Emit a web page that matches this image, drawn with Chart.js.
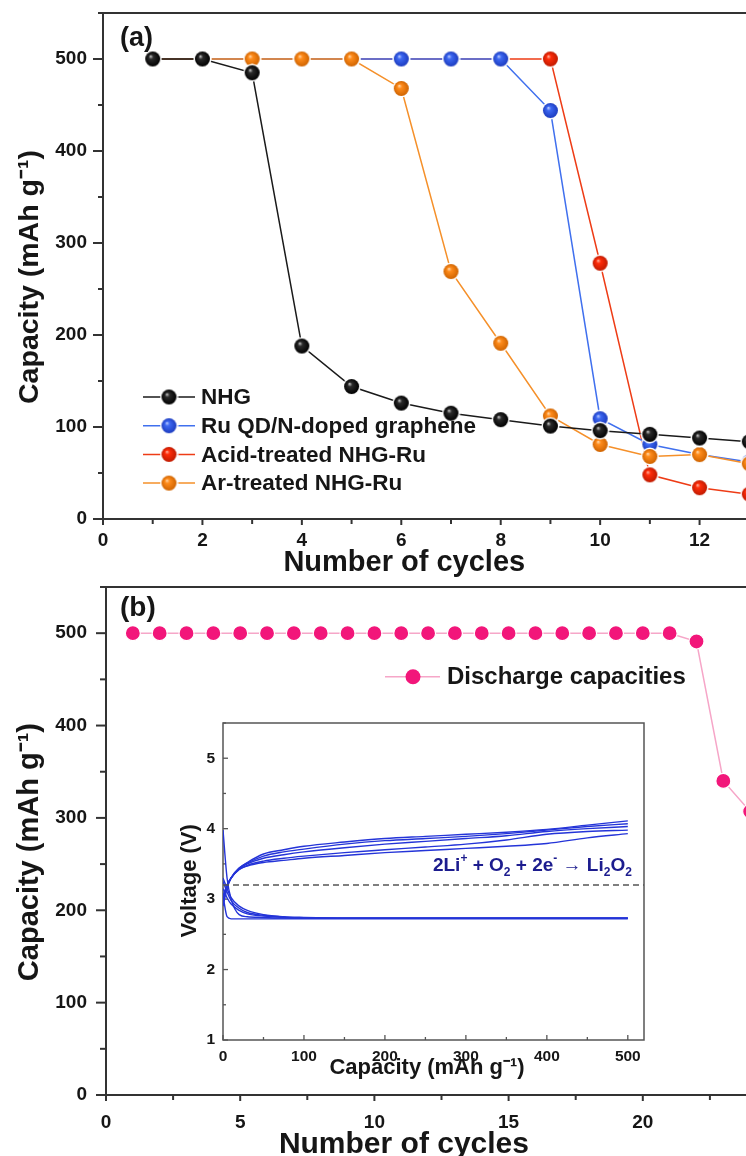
<!DOCTYPE html>
<html>
<head>
<meta charset="utf-8">
<script src="https://cdn.jsdelivr.net/npm/chart.js@4.4.0/dist/chart.umd.min.js"></script>
<style>
  html, body { margin: 0; padding: 0; background: #fff; }
  body { position: relative; width: 746px; height: 1156px; overflow: hidden; }
  canvas { position: absolute; }
  #chartA { left: 0; top: 0; }
  #chartB { left: 0; top: 570px; }
  #chartInset { left: 150px; top: 700px; }
</style>
</head>
<body>
<canvas id="chartA" width="820" height="590"></canvas>
<canvas id="chartB" width="800" height="600"></canvas>
<canvas id="chartInset" width="520" height="390"></canvas>
<script>
// --- panel (a) : capacity vs cycles for four cathodes ---
var cyclesA = [1, 2, 3, 4, 5, 6, 7, 8, 9, 10, 11, 12, 13];
var nhgCap  = [500, 500, 485, 188, 144, 126, 115, 108, 101, 96, 92, 88, 84];
var ruQdCap = [500, 500, 500, 500, 500, 500, 500, 500, 444, 109, 81, 70, 62];
var acidCap = [500, 500, 500, 500, 500, 500, 500, 500, 500, 278, 48, 34, 27];
var arCap   = [500, 500, 500, 500, 500, 468, 269, 191, 112, 81, 68, 70, 60];
var xTicksA = [0, 2, 4, 6, 8, 10, 12];
var yTicksA = [0, 100, 200, 300, 400, 500];

// --- panel (b) : discharge capacity of one cell ---
var cyclesB = [1, 2, 3, 4, 5, 6, 7, 8, 9, 10, 11, 12, 13, 14, 15, 16, 17, 18, 19, 20, 21, 22, 23, 24];
var dischargeCap = [500, 500, 500, 500, 500, 500, 500, 500, 500, 500, 500, 500, 500, 500, 500, 500, 500, 500, 500, 500, 500, 491, 340, 307];
var xTicksB = [0, 5, 10, 15, 20];
var yTicksB = [0, 100, 200, 300, 400, 500];

// --- inset : voltage profiles ---
var insetCap    = [0, 5, 10, 20, 30, 50, 75, 100, 150, 200, 250, 300, 350, 400, 450, 500];
var chargeV1    = [2.90, 3.15, 3.30, 3.44, 3.52, 3.64, 3.70, 3.75, 3.81, 3.86, 3.89, 3.92, 3.95, 3.99, 4.05, 4.11];
var chargeV2    = [2.95, 3.17, 3.30, 3.44, 3.51, 3.61, 3.67, 3.71, 3.78, 3.83, 3.86, 3.89, 3.93, 3.98, 4.03, 4.07];
var chargeV3    = [3.00, 3.18, 3.30, 3.43, 3.50, 3.58, 3.63, 3.67, 3.73, 3.78, 3.82, 3.86, 3.90, 3.96, 4.00, 4.03];
var chargeV4    = [3.00, 3.20, 3.30, 3.42, 3.48, 3.54, 3.58, 3.61, 3.66, 3.70, 3.74, 3.78, 3.84, 3.92, 3.96, 3.98];
var chargeV5    = [3.05, 3.20, 3.30, 3.42, 3.47, 3.52, 3.55, 3.58, 3.62, 3.66, 3.69, 3.72, 3.75, 3.79, 3.87, 3.93];
var dischargeV1 = [3.98, 3.30, 3.00, 2.78, 2.75, 2.74, 2.73, 2.73, 2.73, 2.73, 2.73, 2.73, 2.73, 2.73, 2.73, 2.73];
var dischargeV2 = [3.30, 3.15, 3.02, 2.90, 2.84, 2.78, 2.75, 2.74, 2.73, 2.73, 2.73, 2.73, 2.73, 2.73, 2.73, 2.73];
var dischargeV3 = [3.25, 3.10, 2.98, 2.87, 2.81, 2.77, 2.745, 2.735, 2.73, 2.73, 2.73, 2.73, 2.73, 2.73, 2.73, 2.73];
var dischargeV4 = [3.15, 3.02, 2.93, 2.84, 2.79, 2.76, 2.74, 2.73, 2.73, 2.73, 2.73, 2.73, 2.73, 2.73, 2.73, 2.73];
var dischargeV5 = [3.05, 2.75, 2.72, 2.72, 2.72, 2.72, 2.72, 2.72, 2.72, 2.72, 2.72, 2.72, 2.72, 2.72, 2.72, 2.72];
var eqVoltage = 3.2;
var xTicksIn = [0, 100, 200, 300, 400, 500];
var yTicksIn = [1, 2, 3, 4, 5];

var FONT = '"Liberation Sans", Arial, Helvetica, sans-serif';
var INK = '#161616';
var CAP_TITLE = 'Capacity (mAh g\u207B\u00B9)';
Chart.defaults.font.family = FONT;
Chart.defaults.color = INK;

function pairs(xs, ys) {
    return xs.map(function (x, i) { return { x: x, y: ys[i] }; });
}

function onlyTicks(list) {
    return function (value) { return list.indexOf(value) >= 0 ? String(value) : ''; };
}

// petite sphere ombrée pour les marqueurs du panneau (a)
function makeBall(light, base, shade, r) {
    var c = document.createElement('canvas');
    var s = Math.ceil(r * 2 + 4);
    c.width = s; c.height = s;
    var g = c.getContext('2d');
    var m = s / 2;
    g.fillStyle = '#fff';
    g.beginPath(); g.arc(m, m, r + 1.5, 0, Math.PI * 2); g.fill();
    var grad = g.createRadialGradient(m - r * 0.3, m - r * 0.38, 0, m, m, r);
    grad.addColorStop(0, light);
    grad.addColorStop(0.3, base);
    grad.addColorStop(1, shade);
    g.fillStyle = grad;
    g.beginPath(); g.arc(m, m, r, 0, Math.PI * 2); g.fill();
    return c;
}

function drawTicks(ctx, scale, t, a, horizontal) {
    var dir = t.inward ? 1 : -1;
    var n = Math.round((scale.max - scale.min) / t.minor);
    for (var i = 0; i <= n; i++) {
        var v = scale.min + i * t.minor;
        var major = Math.abs(v / t.major - Math.round(v / t.major)) < 1e-6;
        var len = major ? t.majorLen : t.minorLen;
        var p = scale.getPixelForValue(v);
        ctx.beginPath();
        if (horizontal) { ctx.moveTo(p, a.bottom); ctx.lineTo(p, a.bottom - dir * len); }
        else { ctx.moveTo(a.left, p); ctx.lineTo(a.left + dir * len, p); }
        ctx.stroke();
    }
}

// cadre + graduations majeures/mineures
var axesBox = {
    id: 'axesBox',
    beforeDatasetsDraw: function (chart, args, o) {
        var ctx = chart.ctx, a = chart.chartArea;
        ctx.save();
        ctx.strokeStyle = o.color;
        ctx.lineWidth = o.width;
        ctx.strokeRect(a.left, a.top, a.right - a.left, a.bottom - a.top);
        ctx.lineWidth = o.tickWidth;
        drawTicks(ctx, chart.scales.x, o.x, a, true);
        drawTicks(ctx, chart.scales.y, o.y, a, false);
        ctx.restore();
    }
};

// titres d'axes : le titre d'origine n'est pas centré sur la zone de tracé
var axisTitles = {
    id: 'axisTitles',
    afterDraw: function (chart, args, o) {
        var ctx = chart.ctx, a = chart.chartArea;
        ctx.save();
        ctx.fillStyle = INK;
        ctx.textAlign = 'center';
        ctx.textBaseline = 'middle';
        ctx.font = 'bold ' + o.x.size + 'px ' + FONT;
        ctx.fillText(o.x.text, chart.scales.x.getPixelForValue(o.x.at), a.bottom + o.x.dy);
        ctx.translate(a.left - o.y.dx, chart.scales.y.getPixelForValue(o.y.at));
        ctx.rotate(-Math.PI / 2);
        ctx.font = 'bold ' + o.y.size + 'px ' + FONT;
        ctx.fillText(o.y.text, 0, 0);
        ctx.restore();
    }
};

// the invisible tick length gives the gap between axis and labels
function hiddenGrid(gap) {
    return { display: true, drawOnChartArea: false, drawTicks: true, tickLength: gap, tickColor: 'rgba(0,0,0,0)' };
}

function scaleX(min, max, stepSize, labels, fontSize, gap, height) {
    return {
        type: 'linear', min: min, max: max,
        grid: hiddenGrid(gap), border: { display: false },
        ticks: { stepSize: stepSize, includeBounds: false, autoSkip: false, maxRotation: 0, padding: 0, color: INK,
                 font: { size: fontSize, weight: 'bold' }, callback: onlyTicks(labels) },
        afterFit: function (s) { s.height = height; }
    };
}

function scaleY(min, max, stepSize, labels, fontSize, gap, width) {
    return {
        min: min, max: max,
        grid: hiddenGrid(gap), border: { display: false },
        ticks: { stepSize: stepSize, includeBounds: false, autoSkip: false, padding: 0, color: INK,
                 font: { size: fontSize, weight: 'bold' }, callback: onlyTicks(labels) },
        afterFit: function (s) { s.width = width; }
    };
}

// ---------- panel (a) ----------
var ballBlack  = makeBall('#d8d8d8', '#2a2a2a', '#000000', 7.5);
var ballBlue   = makeBall('#c8d6ff', '#3d68f2', '#1c3cc0', 7.5);
var ballRed    = makeBall('#ffc2b0', '#ff2d0a', '#c01a00', 7.5);
var ballOrange = makeBall('#ffe0b8', '#ff8c1c', '#d06400', 7.5);

var legendOrderA = [0, 1, 2, 3];

var legendA = {
    id: 'legendA',
    afterDraw: function (chart) {
        var ctx = chart.ctx, a = chart.chartArea;
        ctx.save();
        ctx.fillStyle = INK;
        ctx.textAlign = 'left';
        ctx.textBaseline = 'middle';
        ctx.font = 'bold 27px ' + FONT;
        ctx.fillText('(a)', a.left + 17, a.top + 26);
        ctx.font = 'bold 22.5px ' + FONT;
        legendOrderA.forEach(function (idx, row) {
            var ds = chart.data.datasets[idx];
            var y = a.top + 384 + row * 28.7;
            var x = a.left + 40;
            ctx.strokeStyle = ds.borderColor;
            ctx.lineWidth = 1.5;
            ctx.beginPath(); ctx.moveTo(x, y); ctx.lineTo(x + 52, y); ctx.stroke();
            var img = ds.pointStyle;
            ctx.drawImage(img, x + 26 - img.width / 2, y - img.height / 2);
            ctx.fillText(ds.label, x + 58, y + 1);
        });
        ctx.restore();
    }
};

function seriesA(label, ys, color, ball, order) {
    return {
        label: label, data: pairs(cyclesA, ys), order: order,
        borderColor: color, borderWidth: 1.5, tension: 0,
        pointStyle: ball, pointRadius: 8, pointHoverRadius: 8
    };
}

new Chart(document.getElementById('chartA'), {
    type: 'line',
    data: {
        datasets: [
            seriesA('NHG', nhgCap, '#1a1a1a', ballBlack, 0),
            seriesA('Ru QD/N-doped graphene', ruQdCap, '#4070ee', ballBlue, 2),
            seriesA('Acid-treated NHG-Ru', acidCap, '#ee3c16', ballRed, 3),
            seriesA('Ar-treated NHG-Ru', arCap, '#f5902a', ballOrange, 1)
        ]
    },
    options: {
        responsive: false, animation: false,
        layout: { padding: { top: 13, right: 21, bottom: 0, left: 0 } },
        plugins: {
            legend: { display: false }, tooltip: { enabled: false },
            axesBox: {
                color: '#333', width: 2, tickWidth: 2,
                x: { major: 2, minor: 1, majorLen: 6, minorLen: 5, inward: false },
                y: { major: 100, minor: 50, majorLen: 10, minorLen: 5, inward: false }
            },
            axisTitles: {
                x: { text: 'Number of cycles', size: 29, at: 6.06, dy: 44 },
                y: { text: CAP_TITLE, size: 28.5, at: 263, dx: 73 }
            }
        },
        scales: {
            x: scaleX(0, 14, 1, xTicksA, 19, 10, 71),
            y: scaleY(0, 550, 50, yTicksA, 19, 16, 103)
        }
    },
    plugins: [axesBox, legendA, axisTitles]
});

// ---------- panel (b) ----------
var pink = '#f2167a';

var legendB = {
    id: 'legendB',
    afterDraw: function (chart) {
        var ctx = chart.ctx, a = chart.chartArea;
        ctx.save();
        ctx.fillStyle = INK;
        ctx.textAlign = 'left';
        ctx.textBaseline = 'middle';
        ctx.font = 'bold 28px ' + FONT;
        ctx.fillText('(b)', a.left + 14, a.top + 21);
        var y = a.top + 89.7;
        ctx.strokeStyle = '#f6a6c8';
        ctx.lineWidth = 1.5;
        ctx.beginPath(); ctx.moveTo(a.left + 279, y); ctx.lineTo(a.left + 334, y); ctx.stroke();
        ctx.fillStyle = pink;
        ctx.beginPath(); ctx.arc(a.left + 307, y, 7.5, 0, Math.PI * 2); ctx.fill();
        ctx.fillStyle = INK;
        ctx.font = 'bold 24px ' + FONT;
        ctx.fillText('Discharge capacities', a.left + 341, y + 1);
        ctx.restore();
    }
};

new Chart(document.getElementById('chartB'), {
    type: 'line',
    data: {
        datasets: [{
            label: 'Discharge capacities', data: pairs(cyclesB, dischargeCap),
            borderColor: '#f6a6c8', borderWidth: 1.5, tension: 0,
            pointStyle: 'circle', pointRadius: 7.5, pointHoverRadius: 7.5,
            pointBackgroundColor: pink, pointBorderColor: '#ffffff', pointBorderWidth: 1.2
        }]
    },
    options: {
        responsive: false, animation: false,
        layout: { padding: { top: 17, right: 23, bottom: 0, left: 0 } },
        plugins: {
            legend: { display: false }, tooltip: { enabled: false },
            axesBox: {
                color: '#333', width: 2, tickWidth: 2,
                x: { major: 5, minor: 2.5, majorLen: 6, minorLen: 5, inward: false },
                y: { major: 100, minor: 50, majorLen: 10, minorLen: 6, inward: false }
            },
            axisTitles: {
                x: { text: 'Number of cycles', size: 30, at: 11.1, dy: 50 },
                y: { text: CAP_TITLE, size: 29, at: 263, dx: 76 }
            }
        },
        scales: {
            x: scaleX(0, 25, 2.5, xTicksB, 19, 16, 75),
            y: scaleY(0, 550, 50, yTicksB, 19, 19, 106)
        }
    },
    plugins: [axesBox, legendB, axisTitles]
});

// ---------- inset ----------
var blueInk = '#2434d8';
var eqParts = [['2Li', 0], ['+', 1], [' + O', 0], ['2', -1], [' + 2e', 0], ['-', 1], [' \u2192 Li', 0], ['2', -1], ['O', 0], ['2', -1]];

var eqNote = {
    id: 'eqNote',
    afterDraw: function (chart) {
        var ctx = chart.ctx;
        var xs = chart.scales.x, ys = chart.scales.y;
        var big = 'bold 19px ' + FONT, small = 'bold 12px ' + FONT;
        ctx.save();
        ctx.fillStyle = '#1c1c8e';
        ctx.textBaseline = 'middle';
        ctx.textAlign = 'left';
        var total = 0;
        eqParts.forEach(function (p) { ctx.font = p[1] ? small : big; total += ctx.measureText(p[0]).width; });
        var x = xs.getPixelForValue(505) - total;
        var y = ys.getPixelForValue(3.48);
        eqParts.forEach(function (p) {
            ctx.font = p[1] ? small : big;
            ctx.fillText(p[0], x, y + (p[1] === 1 ? -7 : p[1] === -1 ? 7 : 0));
            x += ctx.measureText(p[0]).width;
        });
        ctx.restore();
    }
};

function curve(ys) {
    return {
        data: pairs(insetCap, ys), borderColor: blueInk, borderWidth: 1.4,
        pointRadius: 0, cubicInterpolationMode: 'monotone'
    };
}

new Chart(document.getElementById('chartInset'), {
    type: 'line',
    data: {
        datasets: [
            { data: [{ x: 0, y: eqVoltage }, { x: 520, y: eqVoltage }], borderColor: '#555', borderWidth: 1.4,
              borderDash: [6, 4], pointRadius: 0 },
            curve(chargeV1), curve(chargeV2), curve(chargeV3), curve(chargeV4), curve(chargeV5),
            curve(dischargeV1), curve(dischargeV2), curve(dischargeV3), curve(dischargeV4), curve(dischargeV5)
        ]
    },
    options: {
        responsive: false, animation: false,
        layout: { padding: { top: 23, right: 26, bottom: 0, left: 0 } },
        plugins: {
            legend: { display: false }, tooltip: { enabled: false },
            axesBox: {
                color: '#555', width: 1.5, tickWidth: 1.3,
                x: { major: 100, minor: 50, majorLen: 5, minorLen: 3, inward: true },
                y: { major: 1, minor: 0.5, majorLen: 5, minorLen: 3, inward: true }
            },
            axisTitles: {
                x: { text: CAP_TITLE, size: 22, at: 252, dy: 28 },
                y: { text: 'Voltage (V)', size: 22, at: 3.26, dx: 33 }
            }
        },
        scales: {
            x: scaleX(0, 520, 50, xTicksIn, 15.5, 7, 50),
            y: scaleY(1, 5.5, 0.5, yTicksIn, 15.5, 8, 73)
        }
    },
    plugins: [axesBox, eqNote, axisTitles]
});
</script>
</body>
</html>
